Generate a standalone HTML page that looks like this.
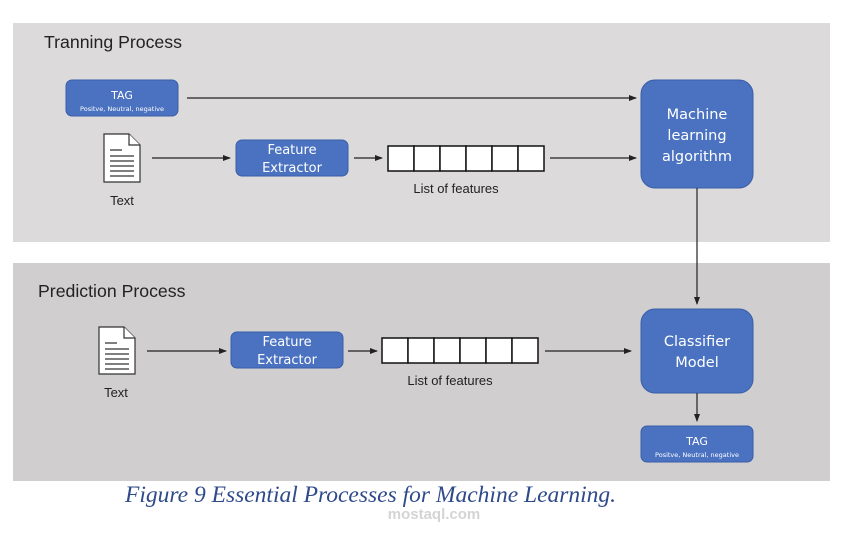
<!DOCTYPE html>
<html><head><style>body{margin:0;background:#fff}svg{display:block}</style></head><body>
<svg width="868" height="533" viewBox="0 0 868 533" xmlns="http://www.w3.org/2000/svg" font-family="Liberation Sans, sans-serif">
<defs><marker id="a" markerWidth="8" markerHeight="8" refX="7" refY="4" orient="auto" markerUnits="userSpaceOnUse"><path d="M0,1 L8,4 L0,7z" fill="#222"/></marker></defs>
<rect x="13" y="23" width="817" height="219" fill="#dcdadb"/>
<rect x="13" y="263" width="817" height="218" fill="#d0cecf"/>
<text x="44" y="48" font-size="17.7" fill="#222">Tranning Process</text>
<text x="38" y="297" font-size="17.7" fill="#222">Prediction Process</text>
<g fill="#4a72c0" stroke="#3a5ea8">
<rect x="66" y="80" width="112" height="36" rx="6"/>
<rect x="236" y="140" width="112" height="36" rx="6"/>
<rect x="641" y="80" width="112" height="108" rx="14"/>
<rect x="231" y="332" width="112" height="36" rx="6"/>
<rect x="641" y="309" width="112" height="84" rx="14"/>
<rect x="641" y="426" width="112" height="36" rx="6"/>
</g>
<g fill="#fff" font-family="DejaVu Sans, sans-serif" text-anchor="middle">
<text x="122" y="99" font-size="11">TAG</text>
<text x="122" y="111" font-size="6.5">Positve, Neutral, negative</text>
<text x="292" y="154" font-size="13">Feature</text>
<text x="292" y="172" font-size="13">Extractor</text>
<text x="697" y="119" font-size="14.5">Machine</text>
<text x="697" y="140" font-size="14.5">learning</text>
<text x="697" y="161" font-size="14.5">algorithm</text>
<text x="287" y="346" font-size="13">Feature</text>
<text x="287" y="364" font-size="13">Extractor</text>
<text x="697" y="346" font-size="14.5">Classifier</text>
<text x="697" y="367" font-size="14.5">Model</text>
<text x="697" y="445" font-size="11">TAG</text>
<text x="697" y="457" font-size="6.5">Positve, Neutral, negative</text>
</g>
<g fill="#fff" stroke="#111" stroke-width="1.5">
<rect x="388" y="146" width="26" height="25"/><rect x="414" y="146" width="26" height="25"/><rect x="440" y="146" width="26" height="25"/><rect x="466" y="146" width="26" height="25"/><rect x="492" y="146" width="26" height="25"/><rect x="518" y="146" width="26" height="25"/>
<rect x="382" y="338" width="26" height="25"/><rect x="408" y="338" width="26" height="25"/><rect x="434" y="338" width="26" height="25"/><rect x="460" y="338" width="26" height="25"/><rect x="486" y="338" width="26" height="25"/><rect x="512" y="338" width="26" height="25"/>
</g>
<g font-size="13" fill="#222" text-anchor="middle">
<text x="456" y="193">List of features</text>
<text x="450" y="385">List of features</text>
<text x="122" y="205">Text</text>
<text x="116" y="397">Text</text>
</g>
<g fill="#fff" stroke="#333" stroke-width="1.2">
<path d="M104,134 H129 L140,145 V182 H104Z"/><path d="M129,134 V145 H140"/>
<path d="M99,327 H124 L135,338 V374 H99Z"/><path d="M124,327 V338 H135"/>
</g>
<g stroke="#333" stroke-width="1.2">
<path d="M110,150h12M110,156h24M110,161h24M110,166h24M110,171h24M110,176h24"/>
<path d="M105,343h12M105,349h24M105,354h24M105,359h24M105,364h24M105,369h24"/>
</g>
<g stroke="#222" stroke-width="1.2" marker-end="url(#a)">
<line x1="187" y1="98" x2="636" y2="98"/>
<line x1="152" y1="158" x2="230" y2="158"/>
<line x1="354" y1="158" x2="382" y2="158"/>
<line x1="550" y1="158" x2="636" y2="158"/>
<line x1="697" y1="188" x2="697" y2="304"/>
<line x1="147" y1="351" x2="226" y2="351"/>
<line x1="348" y1="351" x2="377" y2="351"/>
<line x1="545" y1="351" x2="631" y2="351"/>
<line x1="697" y1="393" x2="697" y2="421"/>
</g>
<text x="434" y="519" font-size="15" fill="#d4d4d4" text-anchor="middle" font-weight="bold">mostaql.com</text>
<text x="125" y="502" font-family="Liberation Serif, serif" font-style="italic" font-size="23.5" fill="#2f4a8a">Figure 9 Essential Processes for Machine Learning.</text>
</svg>
</body></html>
